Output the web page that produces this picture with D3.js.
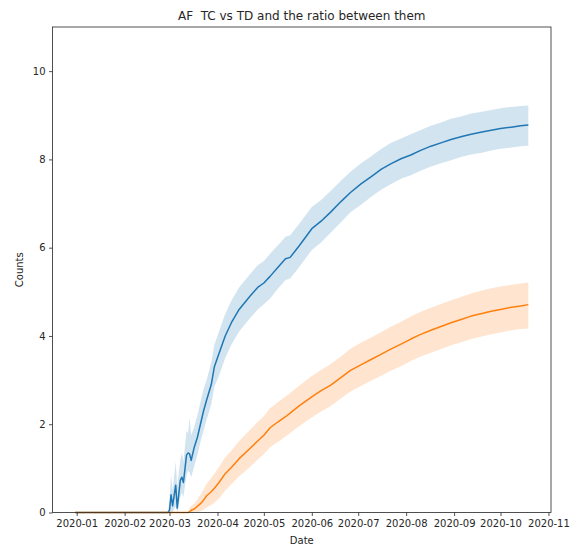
<!doctype html>
<html lang="en">
<head>
  <meta charset="utf-8">
  <title>AF TC vs TD</title>
  <script src="https://cdnjs.cloudflare.com/ajax/libs/d3/7.8.5/d3.min.js"></script>
  <style>
    body { margin: 0; background: #fff; }
    text { font-family: "DejaVu Sans", sans-serif; fill: #262626; }
  </style>
</head>
<body>
<svg width="576" height="547" id="svg"></svg>
<script>
// dates shared by both series
var dates = ["2019-12-31","2020-02-29","2020-03-01","2020-03-02","2020-03-03","2020-03-05","2020-03-06",
  "2020-03-08","2020-03-09","2020-03-10","2020-03-12","2020-03-13","2020-03-14","2020-03-15","2020-03-17",
  "2020-03-19","2020-03-21","2020-03-23","2020-03-25","2020-03-28","2020-03-30","2020-04-02","2020-04-06",
  "2020-04-10","2020-04-15","2020-04-22","2020-04-27","2020-05-01","2020-05-05","2020-05-10","2020-05-15",
  "2020-05-18","2020-05-24","2020-06-01","2020-06-07","2020-06-13","2020-06-20","2020-06-26","2020-07-03",
  "2020-07-09","2020-07-16","2020-07-22","2020-07-29","2020-08-04","2020-08-10","2020-08-17","2020-08-24",
  "2020-08-30","2020-09-06","2020-09-12","2020-09-19","2020-09-25","2020-10-01","2020-10-08","2020-10-14","2020-10-19"];

// TC (blue): mean and confidence band
var tc = [0,0,0.05,0.4,0.15,0.62,0.1,0.73,0.8,0.68,1.3,1.35,1.33,1.18,1.48,1.7,2.0,2.3,2.55,2.9,3.3,3.6,4.0,
  4.3,4.6,4.9,5.1,5.2,5.35,5.55,5.75,5.78,6.05,6.43,6.6,6.8,7.05,7.25,7.45,7.6,7.78,7.9,8.02,8.1,8.2,8.3,8.38,
  8.45,8.52,8.57,8.62,8.66,8.7,8.73,8.76,8.78];
var tcLo = [0,0,0,0,0,0.15,0,0.35,0.45,0.35,0.85,0.95,0.9,0.8,1.05,1.3,1.6,1.85,2.1,2.45,2.85,3.1,3.5,
  3.8,4.1,4.4,4.6,4.72,4.85,5.07,5.27,5.3,5.57,5.95,6.12,6.33,6.58,6.8,6.98,7.14,7.32,7.44,7.57,7.64,7.74,7.84,7.92,
  7.98,8.06,8.11,8.15,8.2,8.24,8.27,8.3,8.31];
var tcHi = [0,0,0.3,0.85,0.5,1.15,0.6,1.2,1.35,1.15,1.85,1.8,2.15,1.75,1.95,2.2,2.5,2.8,3.0,3.4,3.8,4.1,4.5,
  4.8,5.1,5.4,5.6,5.7,5.86,6.05,6.25,6.28,6.55,6.92,7.08,7.28,7.52,7.72,7.92,8.06,8.24,8.37,8.48,8.57,8.66,8.76,8.84,
  8.92,8.98,9.04,9.08,9.12,9.16,9.19,9.21,9.22];

// TD (orange): mean and confidence band
var td = [0,0,0,0,0,0,0,0,0,0,0,0,0.02,0.05,0.08,0.14,0.2,0.28,0.38,0.47,0.55,0.68,0.88,
  1.02,1.22,1.45,1.62,1.75,1.92,2.05,2.17,2.25,2.42,2.62,2.76,2.88,3.06,3.22,3.35,3.46,3.59,3.7,3.82,3.93,4.03,4.13,4.22,
  4.3,4.38,4.45,4.51,4.56,4.6,4.65,4.68,4.71];
var tdLo = [0,0,0,0,0,0,0,0,0,0,0,0,0,0,0,0,0.02,0.06,0.12,0.17,0.22,0.32,0.5,
  0.64,0.82,1.03,1.2,1.32,1.48,1.6,1.72,1.8,1.96,2.15,2.29,2.41,2.59,2.74,2.87,2.98,3.1,3.21,3.32,3.43,3.53,3.62,3.71,
  3.79,3.86,3.93,3.99,4.04,4.08,4.13,4.16,4.17];
var tdHi = [0,0,0,0,0,0,0,0,0,0,0,0,0.1,0.15,0.2,0.3,0.4,0.52,0.65,0.78,0.88,1.03,1.25,
  1.4,1.62,1.87,2.05,2.18,2.36,2.5,2.63,2.71,2.88,3.09,3.23,3.36,3.54,3.71,3.85,3.96,4.09,4.21,4.33,4.44,4.54,4.64,4.73,
  4.81,4.89,4.96,5.03,5.08,5.12,5.16,5.19,5.21];

var monthTicks = ["2020-01","2020-02","2020-03","2020-04","2020-05","2020-06","2020-07","2020-08","2020-09","2020-10","2020-11"];
var yTicks = [0,2,4,6,8,10];

var svg = d3.select('#svg');
var plotL = 52.5, plotR = 551, plotT = 27, plotB = 512.5;

var parse = d3.utcParse("%Y-%m-%d");
var t = dates.map(parse);
var ext = d3.extent(t);
var pad = (ext[1] - ext[0]) * 0.05;
var x = d3.scaleUtc().domain([new Date(+ext[0] - pad), new Date(+ext[1] + pad)]).range([plotL, plotR]);
var y = d3.scaleLinear().domain([0, 11]).range([plotB, plotT]);

var series = [
  {mean: tc, lo: tcLo, hi: tcHi, color: '#1f77b4'},
  {mean: td, lo: tdLo, hi: tdHi, color: '#ff7f0e'}
];

var area = d3.area()
  .x(function(d) { return x(d.t); })
  .y0(function(d) { return y(d.lo); })
  .y1(function(d) { return y(d.hi); });
var line = d3.line()
  .x(function(d) { return x(d.t); })
  .y(function(d) { return y(d.v); });

series.forEach(function(s) {
  var pts = t.map(function(d, i) { return {t: d, v: s.mean[i], lo: s.lo[i], hi: s.hi[i]}; });
  svg.append('path').attr('d', area(pts)).attr('fill', s.color).attr('fill-opacity', 0.2);
});
series.forEach(function(s) {
  var pts = t.map(function(d, i) { return {t: d, v: s.mean[i]}; });
  svg.append('path').attr('d', line(pts)).attr('fill', 'none')
    .attr('stroke', s.color).attr('stroke-width', 1.5).attr('stroke-linejoin', 'round');
});

// x axis
var xAxis = d3.axisBottom(x)
  .tickValues(monthTicks.map(d3.utcParse("%Y-%m")))
  .tickFormat(d3.utcFormat("%Y-%m"))
  .tickSizeInner(3.5).tickSizeOuter(0).tickPadding(3.5);
var gx = svg.append('g').attr('transform', 'translate(0,' + plotB + ')').call(xAxis);
gx.select('.domain').remove();
gx.selectAll('line').attr('stroke', '#262626').attr('stroke-width', 0.8);
gx.selectAll('text').attr('font-size', 10).attr('fill', '#262626').style('font-family', '"DejaVu Sans", sans-serif');

// y axis
var yAxis = d3.axisLeft(y).tickValues(yTicks).tickSizeInner(3.5).tickSizeOuter(0).tickPadding(3.5);
var gy = svg.append('g').attr('transform', 'translate(' + plotL + ',0)').call(yAxis);
gy.select('.domain').remove();
gy.selectAll('line').attr('stroke', '#262626').attr('stroke-width', 0.8);
gy.selectAll('text').attr('font-size', 10).attr('fill', '#262626').style('font-family', '"DejaVu Sans", sans-serif');

// frame
svg.append('rect').attr('x', plotL).attr('y', plotT).attr('width', plotR - plotL).attr('height', plotB - plotT)
  .attr('fill', 'none').attr('stroke', '#262626').attr('stroke-width', 0.8);

// labels
svg.append('text').attr('x', (plotL + plotR) / 2).attr('y', 20).attr('text-anchor', 'middle')
  .attr('font-size', 12).style('white-space', 'pre').text('AF  TC vs TD and the ratio between them');
svg.append('text').attr('x', (plotL + plotR) / 2).attr('y', 544).attr('text-anchor', 'middle')
  .attr('font-size', 10).text('Date');
svg.append('text').attr('transform', 'translate(23,' + (plotT + plotB) / 2 + ') rotate(-90)')
  .attr('text-anchor', 'middle').attr('font-size', 10).text('Counts');
</script>
</body>
</html>
